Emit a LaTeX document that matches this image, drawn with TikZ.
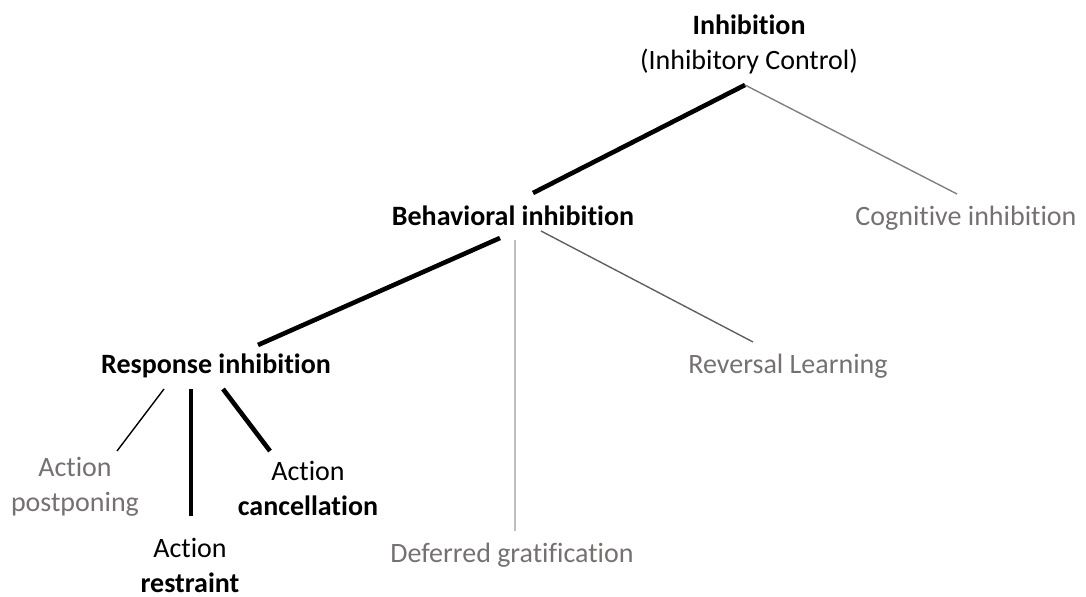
\documentclass[tikz,border=0pt]{standalone}
\usepackage{fontspec}
\setmainfont[Ligatures=NoCommon]{Carlito}
\definecolor{txtgray}{RGB}{118,113,113}
\definecolor{lngray}{RGB}{128,128,128}
\definecolor{lndark}{RGB}{96,96,96}
\definecolor{lnlight}{RGB}{191,191,191}
\tikzset{
  lbl/.style={inner sep=0pt, anchor=base, align=center, font=\fontsize{14}{17.5}\selectfont},
  key/.style={lbl, font=\fontsize{14}{17.5}\selectfont\bfseries, text=black},
  minor/.style={lbl, text=txtgray},
  strong/.style={line width=2.3pt, draw=black},
  weak/.style={line width=0.7pt},
}
\begin{document}
\begin{tikzpicture}[x=0.5pt, y=-0.5pt]
\useasboundingbox (0,0) rectangle (1086,597);

% labels (multi-line labels are anchored at their last baseline)
\node[key] (inh) at (749,70) {Inhibition\\\mdseries(Inhibitory Control)};
\node[key] (beh) at (513,226) {Behavioral inhibition};
\node[minor] (cog) at (966,226) {Cognitive inhibition};
\node[key] (resp) at (216,374) {Response inhibition};
\node[minor] (rev) at (788,374) {Reversal Learning};
\node[minor] (def) at (512,563) {Deferred gratification};
\node[minor] (post) at (75,512) {Action\\postponing};
\node[lbl] (canc) at (308,516) {Action\\\textbf{cancellation}};
\node[lbl] (restr) at (190,593) {Action\\\textbf{restraint}};

% connector end points
\coordinate (apex) at (745,85);
\coordinate (beh-top) at (533,193);
\coordinate (cog-top) at (957,194);
\coordinate (beh-l) at (500,238);
\coordinate (beh-m) at (515,240);
\coordinate (beh-r) at (541,231);
\coordinate (resp-top) at (258,345);
\coordinate (rev-top) at (753,342);
\coordinate (def-top) at (515,531);
\coordinate (resp-l) at (164,389);
\coordinate (resp-m) at (191,389);
\coordinate (resp-r) at (223,389);
\coordinate (post-top) at (117,451);
\coordinate (restr-top) at (191,516);
\coordinate (canc-top) at (270,451);

% connectors
\draw[strong] (apex) -- (beh-top);
\draw[weak, lngray] (apex) -- (cog-top);
\draw[strong] (beh-l) -- (resp-top);
\draw[weak, lnlight, line width=1pt] (beh-m) -- (def-top);
\draw[weak, lndark] (beh-r) -- (rev-top);
\draw[weak, black] (resp-l) -- (post-top);
\draw[strong] (resp-m) -- (restr-top);
\draw[strong] (resp-r) -- (canc-top);
\end{tikzpicture}
\end{document}
